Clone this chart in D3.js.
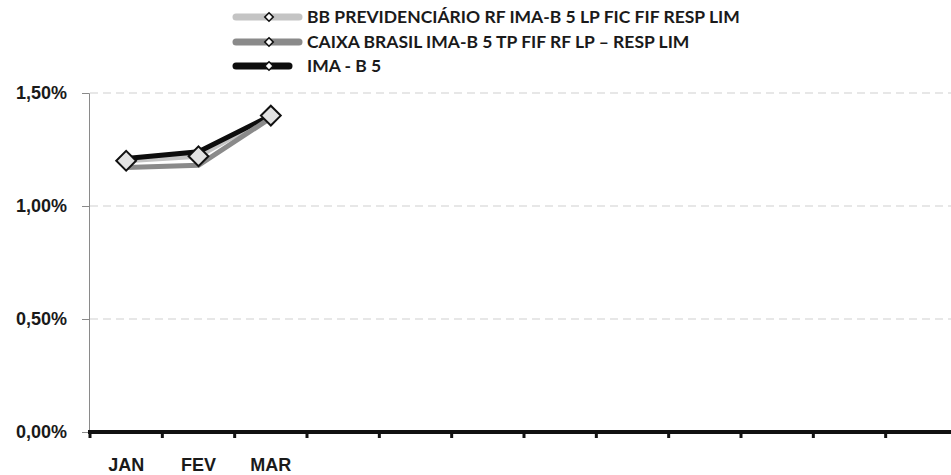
<!DOCTYPE html>
<html>
<head>
<meta charset="utf-8">
<script src="https://cdn.jsdelivr.net/npm/d3@7"></script>
<style>
  body { margin: 0; background: #fff; }
  svg { display: block; font-family: Lato, 'Open Sans', sans-serif; }
  .lbl { font-weight: bold; fill: #1a1a1a; }
</style>
</head>
<body>
<svg width="951" height="475"></svg>
<script>
// months on the category axis (only the filled ones get a label)
const months = ['JAN', 'FEV', 'MAR', 'ABR', 'MAI', 'JUN', 'JUL', 'AGO', 'SET', 'OUT', 'NOV', 'DEZ'];
const seriesNames = [
  'BB PREVIDENCIÁRIO RF IMA-B 5 LP FIC FIF RESP LIM',
  'CAIXA BRASIL IMA-B 5 TP FIF RF LP – RESP LIM',
  'IMA - B 5'
];
// monthly returns, in %
const bbValues = [1.20, 1.22, 1.40];
const caixaValues = [1.17, 1.18, 1.39];
const imaValues = [1.21, 1.24, 1.40];
const yTicks = [0, 0.5, 1.0, 1.5];

var svg = d3.select('svg');

var x = d3.scaleBand().domain(months).range([90, 958]);
var y = d3.scaleLinear().domain([0, 1.5]).range([432, 93]);

var fmt = function (v) { return v.toFixed(2).replace('.', ',') + '%'; };

// dashed gridlines
svg.append('g')
  .selectAll('line')
  .data(yTicks.filter(function (d) { return d > 0; }))
  .enter()
  .append('line')
  .attr('x1', 90).attr('x2', 951)
  .attr('y1', function (d) { return y(d); })
  .attr('y2', function (d) { return y(d); })
  .attr('stroke', '#cfcfcf')
  .attr('stroke-width', 1)
  .attr('stroke-dasharray', '8,5');

// y axis
var yAxis = svg.append('g')
  .attr('transform', 'translate(89,0)')
  .call(d3.axisLeft(y).tickValues(yTicks).tickFormat(fmt).tickSize(7).tickPadding(15));
yAxis.select('.domain').attr('stroke', '#8a8a8a');
yAxis.selectAll('.tick line').attr('stroke', '#8a8a8a');
yAxis.selectAll('text')
  .attr('class', 'lbl')
  .style('font-size', '18px')
  .attr('fill', '#1a1a1a');

// x axis: labels centered on bands, ticks between the bands
var xAxis = svg.append('g')
  .attr('transform', 'translate(0,432)')
  .call(d3.axisBottom(x).tickSize(0).tickPadding(26)
    .tickFormat(function (d, i) { return i < bbValues.length ? d : ''; }));
xAxis.select('.domain').remove();
xAxis.selectAll('text')
  .attr('class', 'lbl')
  .style('font-size', '18px');

svg.append('line')
  .attr('x1', 88).attr('x2', 951)
  .attr('y1', 432).attr('y2', 432)
  .attr('stroke', '#111')
  .attr('stroke-width', 4);

svg.append('g')
  .selectAll('line')
  .data(months.concat(['end']))
  .enter()
  .append('line')
  .attr('x1', function (d, i) { return x.range()[0] + i * x.bandwidth(); })
  .attr('x2', function (d, i) { return x.range()[0] + i * x.bandwidth(); })
  .attr('y1', 432).attr('y2', 438)
  .attr('stroke', '#111')
  .attr('stroke-width', 3);

var line = d3.line()
  .x(function (d, i) { return x(months[i]) + x.bandwidth() / 2; })
  .y(function (d) { return y(d); });

var series = [
  { name: seriesNames[0], values: bbValues, color: '#c4c4c4', order: 0 },
  { name: seriesNames[1], values: caixaValues, color: '#8a8a8a', order: 2 },
  { name: seriesNames[2], values: imaValues, color: '#0d0d0d', order: 1 }
];

series.slice().sort(function (a, b) { return a.order - b.order; })
  .forEach(function (s) {
    svg.append('path')
      .datum(s.values)
      .attr('fill', 'none')
      .attr('stroke', s.color)
      .attr('stroke-width', 5)
      .attr('stroke-linecap', 'round')
      .attr('d', line);
  });

var diamond = d3.symbol().type(d3.symbolDiamond2).size(250);

svg.append('g')
  .selectAll('path')
  .data(bbValues)
  .enter()
  .append('path')
  .attr('d', diamond)
  .attr('transform', function (d, i) {
    return 'translate(' + (x(months[i]) + x.bandwidth() / 2) + ',' + y(d) + ')';
  })
  .attr('fill', '#e2e2e2')
  .attr('stroke', '#111')
  .attr('stroke-width', 2);

// legend
var legend = svg.append('g');
var rowY = [17, 42, 66];
var lineEnd = [302, 302, 292];
series.forEach(function (s, i) {
  var g = legend.append('g').attr('transform', 'translate(0,' + rowY[i] + ')');
  g.append('line')
    .attr('x1', 236).attr('x2', lineEnd[i] - 3)
    .attr('stroke', s.color)
    .attr('stroke-width', 7)
    .attr('stroke-linecap', 'round');
  g.append('path')
    .attr('d', d3.symbol().type(d3.symbolDiamond2).size(45))
    .attr('transform', 'translate(269,0)')
    .attr('fill', '#fff')
    .attr('stroke', '#111')
    .attr('stroke-width', 1.6);
  g.append('text')
    .attr('class', 'lbl')
    .attr('x', 307)
    .attr('dy', '0.36em')
    .style('font-size', '17.5px')
    .text(s.name);
});
</script>
</body>
</html>
